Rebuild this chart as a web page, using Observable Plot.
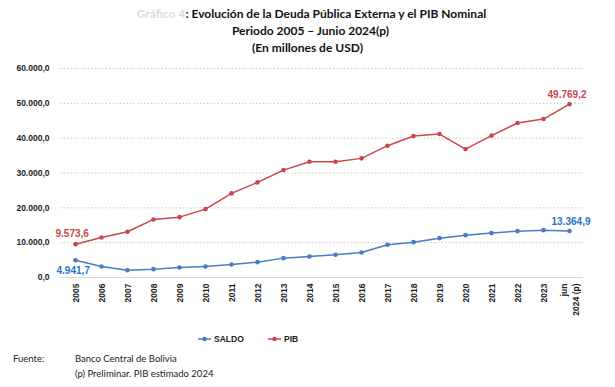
<!DOCTYPE html>
<html>
<head>
<meta charset="utf-8">
<script src="https://cdn.jsdelivr.net/npm/d3@7"></script>
<script src="https://cdn.jsdelivr.net/npm/@observablehq/plot@0.6"></script>
<style>
  html, body { margin: 0; padding: 0; background: #fff; }
  #wrap { position: relative; width: 615px; height: 387px; overflow: hidden; font-family: "Liberation Sans", Arial, sans-serif; }
  .title { position: absolute; left: 0; width: 615px; text-align: center; font-family: Lato, "Noto Sans", sans-serif; font-weight: bold; font-size: 12px; color: #111; padding-left: 0px; }
  #chart { position: absolute; left: 0; top: 55px; }
  #legend { position: absolute; top: 334px; left: 0; width: 615px; font-size: 8.5px; font-weight: bold; color: #222; }
  .lg { position: absolute; display: flex; align-items: center; }
  .foot { position: absolute; font-family: Lato, "Noto Sans", sans-serif; font-size: 9.5px; color: #222; }
</style>
</head>
<body>
<div id="wrap">
  <div class="title" style="top:6px; left:4px"><span style="color:#dcdcdc">Gráfico 4</span>: Evolución de la Deuda Pública Externa y el PIB Nominal</div>
  <div class="title" style="top:23px; left:3px">Periodo 2005 – Junio 2024(p)</div>
  <div class="title" style="top:40px; left:0px">(En millones de USD)</div>
  <div id="chart"></div>
  <div id="legend"></div>
  <div class="foot" style="left:13px; top:353px">Fuente:</div>
  <div class="foot" style="left:75px; top:353px">Banco Central de Bolivia</div>
  <div class="foot" style="left:75px; top:368px">(p) Preliminar. PIB estimado 2024</div>
</div>
<script>
const years = ["2005","2006","2007","2008","2009","2010","2011","2012","2013","2014","2015","2016","2017","2018","2019","2020","2021","2022","2023","jun\n2024 (p)"];
const saldo = [4941.7, 3160, 2100, 2390, 2870, 3160, 3740, 4410, 5560, 6030, 6510, 7180, 9390, 10150, 11300, 12160, 12740, 13310, 13600, 13364.9];
const pib = [9573.6, 11500, 13130, 16670, 17330, 19630, 24140, 27300, 30830, 33250, 33240, 34200, 37840, 40600, 41180, 36870, 40720, 44340, 45490, 49769.2];
const yTicks = [0, 10000, 20000, 30000, 40000, 50000, 60000];
const seriesNames = ["SALDO", "PIB"];
const seriesColors = ["#4a7bc4", "#c9474b"];
const labelColors = ["#1f74c4", "#c9474b"];

const loc = d3.formatLocale({decimal: ",", thousands: ".", grouping: [3], currency: ["", ""]});
const fmt = loc.format(",.1f");

const rows = [];
years.forEach((y, i) => {
  rows.push({year: y, value: saldo[i], series: seriesNames[0]});
  rows.push({year: y, value: pib[i], series: seriesNames[1]});
});
const colorOf = s => seriesColors[seriesNames.indexOf(s)];
const first = years[0], last = years[years.length - 1];

const chart = Plot.plot({
  width: 615,
  height: 275,
  marginTop: 13,
  marginBottom: 53,
  marginLeft: 60,
  marginRight: 32,
  style: {fontFamily: "'Liberation Sans', Arial, sans-serif", fontSize: "8.5px", color: "#222", background: "transparent"},
  x: {type: "point", domain: years, padding: 0.5, label: null},
  y: {domain: [0, 60000], label: null},
  marks: [
    Plot.gridY(yTicks.filter(d => d > 0), {stroke: "#c8c8c8", strokeOpacity: 1, strokeDasharray: "1.5,2"}),
    Plot.ruleY([0], {stroke: "#d9d9d9"}),
    Plot.axisY({ticks: yTicks, tickFormat: fmt, tickSize: 0, tickPadding: 11, fontWeight: "bold", fill: "#222"}),
    Plot.axisX({tickRotate: -90, tickSize: 0, tickPadding: 6, fontWeight: "bold", fill: "#222", lineHeight: 1.35}),
    Plot.line(rows, {x: "year", y: "value", z: "series", stroke: d => colorOf(d.series), strokeWidth: 1.5}),
    Plot.dot(rows, {x: "year", y: "value", fill: d => colorOf(d.series), r: 2.3}),
    Plot.text([{year: first, value: pib[0]}], {x: "year", y: "value", text: d => fmt(d.value), fill: labelColors[1], fontWeight: "bold", fontSize: 10, dx: -20, dy: -10, textAnchor: "start"}),
    Plot.text([{year: first, value: saldo[0]}], {x: "year", y: "value", text: d => fmt(d.value), fill: labelColors[0], fontWeight: "bold", fontSize: 10, dx: -19, dy: 11, textAnchor: "start"}),
    Plot.text([{year: last, value: pib[pib.length - 1]}], {x: "year", y: "value", text: d => fmt(d.value), fill: labelColors[1], fontWeight: "bold", fontSize: 10, dx: 17, dy: -9, textAnchor: "end"}),
    Plot.text([{year: last, value: saldo[saldo.length - 1]}], {x: "year", y: "value", text: d => fmt(d.value), fill: labelColors[0], fontWeight: "bold", fontSize: 10, dx: 21, dy: -9, textAnchor: "end"})
  ]
});
document.getElementById("chart").appendChild(chart);

const legend = document.getElementById("legend");
const lgX = [198, 268];
seriesNames.forEach((s, i) => {
  const d = document.createElement("div");
  d.className = "lg";
  d.style.left = lgX[i] + "px";
  d.innerHTML = `<svg width="14" height="8" style="margin-right:2px"><line x1="0" y1="4" x2="13" y2="4" stroke="${seriesColors[i]}" stroke-width="1.5"/><circle cx="6.5" cy="4" r="2.2" fill="${seriesColors[i]}"/></svg><span>${s}</span>`;
  legend.appendChild(d);
});
</script>
</body>
</html>
